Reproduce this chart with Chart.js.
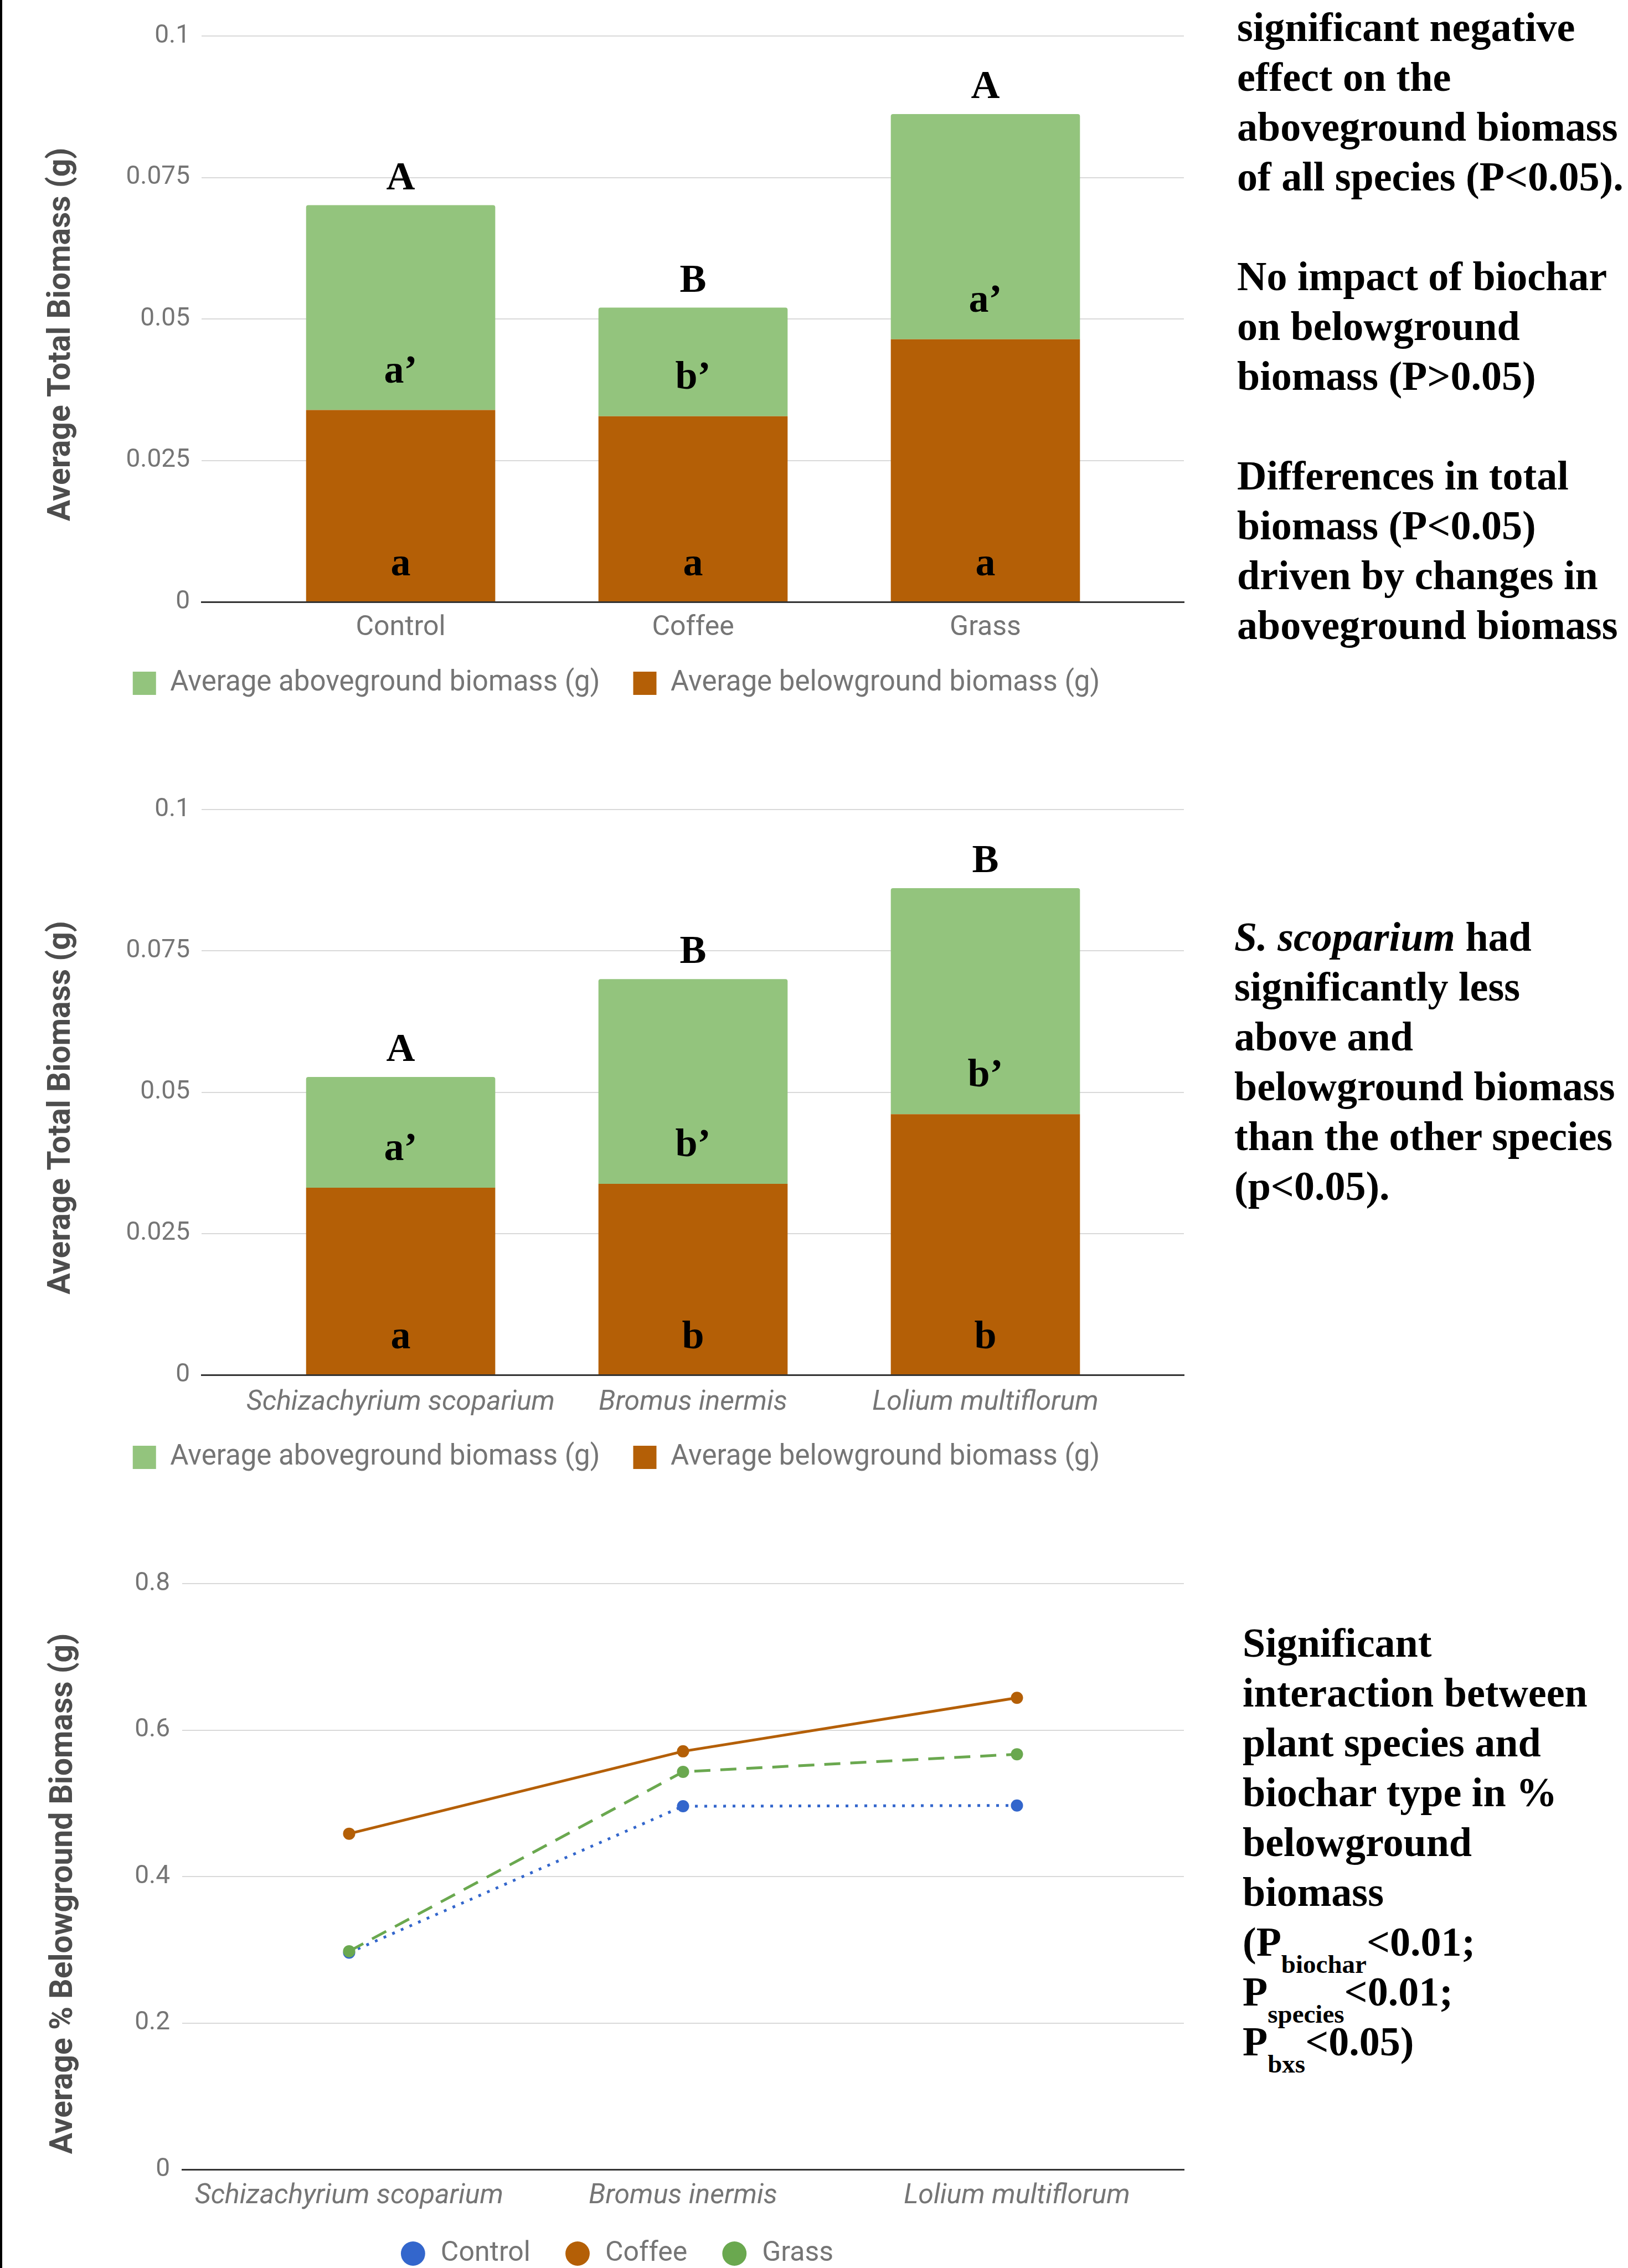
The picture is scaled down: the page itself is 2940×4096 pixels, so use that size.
<!DOCTYPE html>
<html>
<head>
<meta charset="utf-8">
<title>Biochar and plant biomass</title>
<script src="https://cdn.jsdelivr.net/npm/chart.js"></script>
<style>
html, body { margin: 0; padding: 0; background: #fff; overflow: hidden; }
body { width: 2940px; height: 4096px; position: relative; }
canvas { position: absolute; left: 0; }
#edge { position: absolute; left: 0; top: 0; width: 4px; height: 4096px; background: #000; }
.note { position: absolute; font: bold 74px "Liberation Serif", "Times New Roman", serif; line-height: 90px; color: #000; white-space: nowrap; }
.note .sub { font-size: 47px; line-height: 0; position: relative; top: 31px; }
</style>
</head>
<body>
<canvas id="byBiochar" width="2226" height="1308" style="top:0"></canvas>
<canvas id="bySpecies" width="2226" height="1304" style="top:1400px"></canvas>
<canvas id="pctBelow" width="2226" height="1358" style="top:2780px"></canvas>
<div id="edge"></div>

<div class="note" style="left:2234px; top:4px">
significant negative<br>
effect on the<br>
aboveground biomass<br>
of all species (P&lt;0.05).<br>
<br>
No impact of biochar<br>
on belowground<br>
biomass (P&gt;0.05)<br>
<br>
Differences in total<br>
biomass (P&lt;0.05)<br>
driven by changes in<br>
aboveground biomass
</div>

<div class="note" style="left:2229px; top:1647px">
<i>S. scoparium</i> had<br>
significantly less<br>
above and<br>
belowground biomass<br>
than the other species<br>
(p&lt;0.05).
</div>

<div class="note" style="left:2244px; top:2922px">
Significant<br>
interaction between<br>
plant species and<br>
biochar type in %<br>
belowground<br>
biomass<br>
(P<span class="sub">biochar</span>&lt;0.01;<br>
P<span class="sub">species</span>&lt;0.01;<br>
P<span class="sub">bxs</span>&lt;0.05)
</div>

<script>
//
// Data read off the poster
//

const treatments = ['Control', 'Coffee', 'Grass'];
const treatBelow = [0.0339, 0.0328, 0.0464];
const treatAbove = [0.0362, 0.0192, 0.0398];
const treatTopLetter = ['A', 'B', 'A'];
const treatAboveLetter = ['a’', 'b’', 'a’'];
const treatBelowLetter = ['a', 'a', 'a'];

const species = ['Schizachyrium scoparium', 'Bromus inermis', 'Lolium multiflorum'];
const speciesBelow = [0.0331, 0.0338, 0.0461];
const speciesAbove = [0.0196, 0.0362, 0.0400];
const speciesTopLetter = ['A', 'B', 'B'];
const speciesAboveLetter = ['a’', 'b’', 'b’'];
const speciesBelowLetter = ['a', 'b', 'b'];

const biomassTicks = [0, 0.025, 0.05, 0.075, 0.1];

const pctControl = [0.296, 0.496, 0.497];
const pctCoffee = [0.4585, 0.571, 0.644];
const pctGrass = [0.298, 0.543, 0.567];
const pctTicks = [0, 0.2, 0.4, 0.6, 0.8];

const GREY = '#757575';
Chart.defaults.font.family = 'Roboto';
Chart.defaults.color = GREY;

//
// Small plugins: letters on the bars, rotated y titles, legend placement
//

const barLetters = {
    id: 'barLetters',
    afterDatasetsDraw(chart, args, opts) {
        const ctx = chart.ctx;
        const below = chart.getDatasetMeta(0).data;
        const above = chart.getDatasetMeta(1).data;
        ctx.save();
        ctx.font = 'bold 72px "Liberation Serif", "Times New Roman", serif';
        ctx.fillStyle = '#000';
        ctx.textAlign = 'center';
        ctx.textBaseline = 'alphabetic';
        above.forEach(function (bar, i) {
            ctx.fillText(opts.top[i], bar.x, bar.y - 29);
            ctx.fillText(opts.above[i], bar.x, below[i].y - 50);
            ctx.fillText(opts.below[i], bar.x, below[i].base - 47);
        });
        ctx.restore();
    }
};

const sideTitle = {
    id: 'sideTitle',
    afterDraw(chart, args, opts) {
        const ctx = chart.ctx;
        const area = chart.chartArea;
        ctx.save();
        ctx.translate(opts.x, (area.top + area.bottom) / 2 + opts.dy);
        ctx.rotate(-Math.PI / 2);
        ctx.font = 'bold 57px Roboto';
        ctx.fillStyle = '#4d4d4d';
        ctx.textAlign = 'center';
        ctx.textBaseline = 'middle';
        ctx.fillText(opts.text, 0, 0);
        ctx.restore();
    }
};

const legendSpot = {
    id: 'legendSpot',
    afterLayout(chart, args, opts) {
        const lg = chart.legend;
        const labels = lg.options.labels;
        lg.left = 0;
        lg.right = opts.span;
        lg.width = opts.span;
        lg.top = opts.y - labels.padding - labels.font.size / 2;
        lg.bottom = lg.top + lg.height;
    }
};

function stackedBars(id, cats, below, above, letters, italic, layout) {
    return new Chart(document.getElementById(id), {
        type: 'bar',
        data: {
            datasets: [{
                label: 'Average belowground biomass (g)',
                data: below.map(function (v, i) { return {x: i, y: v}; }),
                backgroundColor: '#b45f06'
            }, {
                label: 'Average aboveground biomass (g)',
                data: above.map(function (v, i) { return {x: i, y: v}; }),
                backgroundColor: '#93c47d',
                borderRadius: {topLeft: 4, topRight: 4}
            }]
        },
        options: {
            responsive: false,
            animation: false,
            barPercentage: 0.647,
            categoryPercentage: 1,
            layout: {padding: {top: layout.top, left: 0, right: 88, bottom: 0}},
            scales: {
                x: {
                    type: 'linear',
                    offset: false,
                    stacked: true,
                    min: -0.681,
                    max: 2.679,
                    grid: {display: false, drawTicks: false, offset: false},
                    border: {color: '#333', width: 3},
                    afterBuildTicks: function (s) {
                        s.ticks = cats.map(function (c, i) { return {value: i}; });
                    },
                    afterFit: function (s) { s.height = 100; },
                    ticks: {
                        autoSkip: false,
                        maxRotation: 0,
                        padding: layout.labelPad,
                        color: GREY,
                        font: {size: 50, style: italic ? 'italic' : 'normal'},
                        callback: function (v) { return cats[v]; }
                    }
                },
                y: {
                    stacked: true,
                    min: 0,
                    max: 0.1,
                    grid: {color: '#d9d9d9', lineWidth: 2, drawTicks: false},
                    border: {display: false},
                    afterBuildTicks: function (s) {
                        s.ticks = biomassTicks.map(function (v) { return {value: v}; });
                    },
                    afterFit: function (s) { s.width = 364; },
                    ticks: {
                        padding: 21,
                        color: GREY,
                        font: {size: 46},
                        callback: function (v) { return String(v); }
                    }
                }
            },
            plugins: {
                tooltip: {enabled: false},
                legend: {
                    position: 'bottom',
                    reverse: true,
                    labels: {boxWidth: 42, boxHeight: 42, padding: 60, color: GREY, font: {size: 51}}
                },
                legendSpot: {span: 2226, y: layout.legendY},
                sideTitle: {text: 'Average Total Biomass (g)', x: 112, dy: 28},
                barLetters: letters
            }
        },
        plugins: [barLetters, sideTitle, legendSpot]
    });
}

stackedBars('byBiochar', treatments, treatBelow, treatAbove,
    {top: treatTopLetter, above: treatAboveLetter, below: treatBelowLetter}, false,
    {top: 65, labelPad: 17, legendY: 1234});

stackedBars('bySpecies', species, speciesBelow, speciesAbove,
    {top: speciesTopLetter, above: speciesAboveLetter, below: speciesBelowLetter}, true,
    {top: 62, labelPad: 20, legendY: 1232});

//
// % belowground biomass by species and biochar
//

new Chart(document.getElementById('pctBelow'), {
    type: 'line',
    data: {
        labels: species,
        datasets: [{
            label: 'Control',
            data: pctControl,
            borderColor: '#3366cc',
            backgroundColor: '#3366cc',
            borderDash: [5, 12],
            order: 2
        }, {
            label: 'Coffee',
            data: pctCoffee,
            borderColor: '#b45f06',
            backgroundColor: '#b45f06',
            order: 1
        }, {
            label: 'Grass',
            data: pctGrass,
            borderColor: '#6aa84f',
            backgroundColor: '#6aa84f',
            borderDash: [29, 18],
            order: 0
        }]
    },
    options: {
        responsive: false,
        animation: false,
        layout: {padding: {top: 80, left: 0, right: 88, bottom: 0}},
        elements: {
            line: {borderWidth: 5, tension: 0},
            point: {radius: 11, borderWidth: 0}
        },
        scales: {
            x: {
                offset: true,
                grid: {display: false, drawTicks: false},
                border: {color: '#333', width: 3},
                afterFit: function (s) { s.height = 100; },
                ticks: {padding: 18, color: GREY, font: {size: 50, style: 'italic'}, maxRotation: 0, autoSkip: false}
            },
            y: {
                min: 0,
                max: 0.8,
                grid: {color: '#d9d9d9', lineWidth: 2, drawTicks: false},
                border: {display: false},
                afterBuildTicks: function (s) {
                    s.ticks = pctTicks.map(function (v) { return {value: v}; });
                },
                afterFit: function (s) { s.width = 329; },
                ticks: {padding: 22, color: GREY, font: {size: 46}, callback: function (v) { return String(v); }}
            }
        },
        plugins: {
            tooltip: {enabled: false},
            legend: {
                position: 'bottom',
                labels: {
                    usePointStyle: true,
                    pointStyle: 'circle',
                    boxWidth: 50,
                    boxHeight: 31,
                    padding: 60,
                    color: GREY,
                    font: {size: 50},
                    sort: function (a, b) { return a.datasetIndex - b.datasetIndex; },
                    generateLabels: function (chart) {
                        return Chart.defaults.plugins.legend.labels.generateLabels(chart).map(function (item) {
                            item.lineDash = [];
                            item.lineWidth = 0;
                            return item;
                        });
                    }
                }
            },
            legendSpot: {span: 2226, y: 1290},
            sideTitle: {text: 'Average % Belowground Biomass (g)', x: 116, dy: 31}
        }
    },
    plugins: [sideTitle, legendSpot]
});
</script>
</body>
</html>
